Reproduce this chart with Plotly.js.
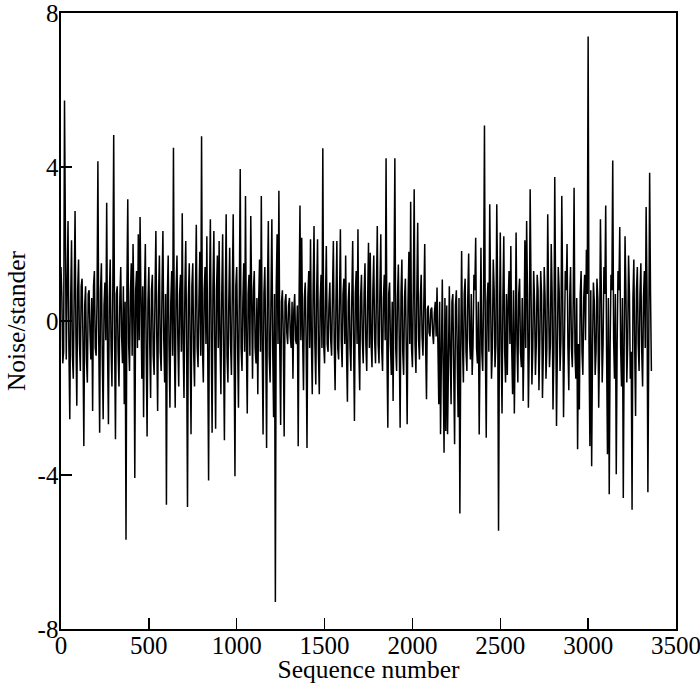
<!DOCTYPE html>
<html>
<head>
<meta charset="utf-8">
<script src="https://cdn.plot.ly/plotly-3.0.1.min.js"></script>
<style>html,body{margin:0;padding:0;background:#fff;}#chart{width:700px;height:684px;}</style>
</head>
<body>
<div id="chart"></div>
<script>
// Sequence numbers: main samples every 10 (0 .. 3360), in-between samples at 5, 15, ... 3355
const seqStep = 10;
// Noise/stander values at sequence 0, 10, 20, ... 3360 (peaks and envelope)
const noise = [
  1.4, -1.1, 5.73, -1.0, 2.6, -2.55, 2.1, -1.5, 2.86, -2.2,
  1.6, -1.3, 1.1, -3.25, 0.9, -1.6, 0.8, -1.0, -2.34, 1.3,
  -0.9, 4.15, -2.9, 1.5, -2.55, 1.0, 3.07, -2.68, 1.6, -1.7,
  4.83, -3.07, 0.9, -1.7, 1.4, -1.1, -2.16, -5.68, 3.16, -1.3,
  1.5, 2.0, -4.08, 1.3, 2.25, 2.7, -1.5, -2.5, 2.0, -3.0,
  1.4, -2.0, 1.2, -1.4, 2.34, -2.34, 1.7, -1.3, 2.34, -1.6,
  -4.77, 1.7, -2.25, 1.3, 4.5, -2.25, 1.7, -1.7, 1.2, 2.8,
  -2.0, 2.08, -4.83, 1.5, -2.94, 1.5, -1.7, 2.5, -1.2, 1.8,
  4.8, -1.6, 1.4, 2.2, -4.14, 2.64, -2.9, 2.34, -2.8, 1.7,
  2.08, -1.9, 2.25, -3.1, 2.77, -1.6, 1.9, -1.4, 2.77, -4.03,
  1.4, -2.25, 3.95, -1.3, 1.5, 3.25, -2.4, 1.2, 2.73, -1.5,
  1.3, -1.1, -1.9, 1.6, 3.25, -2.95, 1.4, -3.3, 2.6, -1.6,
  2.64, -2.5, -7.3, 2.25, 3.38, -2.7, 0.8, -3.0, 0.7, -0.6,
  0.6, -0.7, -1.5, 0.7, -0.6, -3.25, 3.0, 2.16, -1.8, 1.0,
  -3.3, 1.3, 2.12, -1.9, 2.47, -1.65, 2.12, -1.9, 1.2, 4.49,
  -1.1, 1.95, -0.8, 1.0, -0.9, 2.08, -1.8, 2.08, -1.0, 2.38,
  -1.2, 1.1, 1.7, -2.1, 1.0, -1.3, 2.08, -2.6, 1.3, 2.38,
  -1.8, 1.2, -1.1, 1.5, -1.3, 2.03, 1.77, -1.2, 1.7, -1.1,
  2.47, -1.1, 2.25, -1.3, 1.2, 4.23, -2.77, 1.0, -1.4, -2.08,
  4.23, -1.3, 1.47, -2.77, 1.6, -1.4, 1.1, -2.68, 1.8, 3.1,
  -1.2, 3.42, -1.35, 2.55, -1.0, 1.2, -0.9, 2.0, -2.03, 0.4,
  -0.4, 0.35, -0.6, 0.5, 0.87, -2.16, -2.94, 1.08, -3.42, -2.86,
  -2.94, 0.9, -2.16, 0.7, -3.2, 0.8, -2.5, -5.0, 1.82, -1.6,
  1.1, -1.3, 1.75, -1.0, -1.4, 1.2, 2.16, -1.1, -2.95, 1.9,
  -1.3, 5.08, -3.03, 1.0, 3.03, -1.5, 1.6, -1.2, 3.03, -5.45,
  2.3, -2.4, 2.2, -1.6, -1.4, 1.3, 1.95, -1.9, -2.4, 2.3,
  -1.6, 1.1, -1.2, -2.08, 2.1, 2.6, -2.25, 3.42, -1.65, 1.3,
  -1.4, 1.2, -1.8, 1.3, -2.0, 1.4, -1.5, 2.77, -1.2, 2.0,
  -2.3, 3.74, -2.73, 1.4, -1.3, 3.25, -2.5, 1.3, 2.0, -1.8,
  1.4, -1.2, 3.46, -1.5, -3.33, -2.3, 1.3, -1.4, 1.2, 1.85,
  7.39, -3.25, -3.77, 1.0, -1.4, 1.1, -2.25, 2.64, -1.6, 1.4,
  3.0, -3.46, -4.5, 1.2, 4.17, -1.5, -3.98, 1.3, 2.44, -1.7,
  -4.6, 2.2, -1.6, 1.7, -1.5, -4.9, 1.6, -2.47, 1.4, -1.3,
  1.5, -1.7, 1.3, 2.96, -4.45, 3.85, -1.3
];
const noiseMid = [
  0.6, -0.8, 0.3, 0.9, -0.7, 0.5, -0.9, 0.7, -0.4, 0.8,
  -0.6, 0.9, -0.5, 0.4, -1.0, 0.7, -0.3, 0.6, 0.9, -0.7,
  0.5, -0.6, 0.8, -0.9, 0.4, -0.5, -0.8, 0.6, -0.7, 0.9,
  -0.5, 0.7, -0.8, 0.6, -0.4, 0.9, 0.5, 0.8, -0.6, 0.7,
  -0.9, 0.4, 0.8, -0.7, -0.5, 0.6, 0.9, 0.7, -0.8, 0.5,
  -0.6, 0.8, -0.9, 0.7, -0.4, 0.6, -0.8, 0.9, -0.5, 0.7,
  0.6, -0.7, 0.5, -0.9, -0.6, 0.8, -0.5, 0.7, -0.8, -0.6,
  0.8, -0.7, 0.6, -0.5, 0.9, -0.8, 0.6, -0.7, 0.5, -0.9,
  -0.7, 0.8, -0.6, -0.8, 0.7, -0.5, 0.9, -0.6, 0.8, -0.7,
  -0.5, 0.7, -0.8, 0.6, -0.9, 0.5, -0.6, 0.8, -0.7, 0.9,
  -0.6, 0.8, -0.7, 0.5, -0.8, -0.6, 0.7, -0.9, 0.6, 0.8,
  -0.7, 0.6, 0.5, -0.8, -0.6, 0.7, -0.5, 0.8, -0.9, 0.6,
  -0.8, 0.7, 0.9, -0.6, -0.7, 0.5, -0.4, 0.5, -0.3, 0.4,
  -0.4, 0.5, 0.3, -0.5, 0.4, 0.6, -0.5, -0.4, 0.6, -0.5,
  0.6, -0.7, -0.5, 0.8, -0.6, 0.7, -0.8, 0.5, -0.7, -0.6,
  0.5, -0.6, 0.4, -0.5, 0.7, -0.6, 0.5, -0.7, 0.6, -0.5,
  0.7, -0.6, -0.8, 0.5, -0.7, 0.6, -0.5, 0.7, -0.6, -0.8,
  0.6, -0.5, 0.7, -0.6, 0.5, -0.7, -0.6, 0.8, -0.5, 0.7,
  -0.6, 0.8, -0.7, 0.6, -0.5, -0.8, 0.7, -0.6, 0.5, 0.8,
  -0.7, 0.6, -0.5, 0.7, -0.8, 0.6, -0.7, 0.5, -0.6, -0.7,
  0.8, -0.6, 0.7, -0.5, 0.6, -0.4, 0.5, -0.6, 0.3, -0.3,
  0.3, -0.3, 0.2, -0.4, -0.6, 0.5, -0.9, -1.2, 0.6, 0.4,
  -1.1, -0.8, 0.5, -1.3, 0.4, -0.9, 0.6, -0.7, -0.6, 0.7,
  -0.8, 0.6, -0.5, 0.7, -0.6, 0.8, -0.7, 0.5, -0.6, -0.8,
  0.7, -0.6, 0.5, -0.8, 0.6, -0.7, 0.8, -0.6, 0.7, -0.5,
  -0.7, 0.6, -0.8, 0.7, 0.5, -0.6, -0.7, 0.8, -0.5, -0.6,
  0.7, -0.8, 0.6, -0.5, -0.7, 0.6, -0.6, 0.8, -0.7, 0.5,
  -0.6, 0.8, -0.5, 0.7, -0.8, 0.6, -0.7, 0.5, -0.6, 0.7,
  -0.8, 0.6, -0.7, 0.8, -0.5, 0.7, -0.6, 0.8, -0.7, 0.6,
  -0.7, 0.5, -0.8, 0.6, -0.6, 0.7, -0.8, 0.6, -0.5, 0.7,
  -0.6, 0.8, -0.7, 0.5, -0.8, 0.6, -0.7, 0.8, -0.6, 0.7,
  -0.8, 0.6, -0.7, 0.8, -0.5, 0.7, -0.6, 0.8, -0.7, 0.6,
  -0.7, 0.8, -0.6, 0.7, -0.8, 0.6, -0.7, 0.8, -0.6, 0.7,
  -0.8, 0.6, -0.7, 0.8, -0.6, 0.7
];
const xTickVals = [0, 500, 1000, 1500, 2000, 2500, 3000, 3500];
const yTickVals = [-8, -4, 0, 4, 8];

// Interleave the two sample sets into one sequence
const seq = [], vals = [];
noise.forEach((v, i) => {
  seq.push(i * seqStep); vals.push(v);
  if (i < noiseMid.length) { seq.push(i * seqStep + seqStep / 2); vals.push(noiseMid[i]); }
});

const font = 'Liberation Serif, Times New Roman, serif';
const trace = {
  x: seq, y: vals, type: 'scatter', mode: 'lines',
  line: {color: '#000', width: 1.5}, hoverinfo: 'skip'
};
const layout = {
  width: 700, height: 684,
  margin: {l: 61, r: 24, t: 13, b: 55, pad: 0},
  paper_bgcolor: '#fff', plot_bgcolor: '#fff',
  showlegend: false,
  font: {family: font, color: '#000', size: 25},
  xaxis: {
    range: [0, 3500], tickvals: xTickVals, ticktext: xTickVals.map(String),
    ticks: 'inside', ticklen: 11, tickwidth: 1.3, tickcolor: '#000',
    showline: true, linecolor: '#000', linewidth: 1.6, mirror: true,
    showgrid: false, zeroline: false, ticklabelstandoff: -7, ticklabeloverflow: 'allow',
    tickfont: {family: font, size: 25, color: '#000'},
    title: {text: 'Sequence number', font: {family: font, size: 25.5, color: '#000'}, standoff: 0}
  },
  yaxis: {
    range: [-8, 8], tickvals: yTickVals, ticktext: yTickVals.map(String),
    ticks: 'inside', ticklen: 11, tickwidth: 1.3, tickcolor: '#000',
    showline: true, linecolor: '#000', linewidth: 1.6, mirror: true,
    showgrid: false, zeroline: false, ticklabelstandoff: -4, ticklabeloverflow: 'allow',
    tickfont: {family: font, size: 25, color: '#000'},
    title: {text: 'Noise/stander', font: {family: font, size: 25.5, color: '#000'}, standoff: 4}
  }
};
Plotly.newPlot('chart', [trace], layout, {displayModeBar: false, staticPlot: true});
</script>
</body>
</html>
